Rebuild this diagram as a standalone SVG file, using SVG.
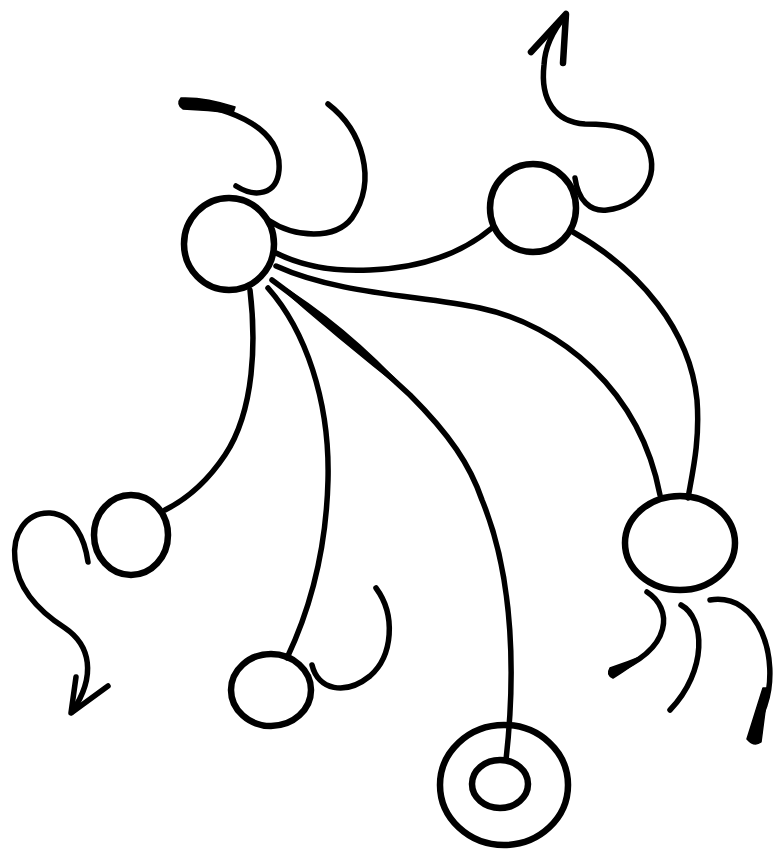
<svg xmlns="http://www.w3.org/2000/svg" width="777" height="850" viewBox="0 0 777 850">
<style>
.n{fill:none;stroke:#000;stroke-width:6.5}
.c{fill:none;stroke:#000;stroke-width:5.5;stroke-linecap:round;stroke-linejoin:round}
.f{fill:#000;stroke:#000;stroke-width:1.5;stroke-linejoin:round}
</style>
<rect width="777" height="850" fill="#fff"/>
<g id="connectors">
<path class="c" d="M183,103 C235,108 282,130 279,170 C277,195 255,198 236,186"/>
<path class="f" d="M181,98 Q205,97 235,107 L233,113 Q208,110 183,109 Q176,104 181,98 Z"/>
<path class="c" d="M328,104 C362,130 378,180 352,218 C335,240 295,238 268,220"/>
<path class="c" d="M276,253 C300,265 330,272 370,270 C420,268 460,255 492,228"/>
<path class="c" d="M276,266 C340,295 420,295 480,308 C560,325 640,390 660,495"/>
<path class="c" d="M573,232 C640,270 690,330 697,400 C700,440 693,470 688,498"/>
<path class="c" d="M250,290 C256,340 255,410 225,455 C205,485 185,500 165,510"/>
<path class="c" d="M268,288 C305,330 330,400 328,480 C326,560 305,620 287,658"/>
<path class="c" d="M272,280 Q340,330 410,395 C450,435 470,465 482,500 C515,580 515,680 506,760"/>
<path class="f" d="M272,280 Q334.9,336.1 410,395 Q345.1,323.9 272,280 Z"/>
<path class="c" d="M575,178 C578,200 590,212 607,210 C640,206 660,178 648,148 C638,126 608,124 585,124 C555,122 540,100 544,65 C545,45 555,28 566,15"/>
<path class="c" style="stroke-width:6.5" d="M531,52 L566,14 L563,63"/>
<path class="c" d="M88,562 C85,540 75,515 50,513 C25,512 12,535 15,560 C18,590 40,612 65,628 C90,645 97,675 72,712"/>
<path class="c" d="M76,677 L71,713 L108,686"/>
<path class="c" d="M312,665 C318,690 345,696 370,676 C393,656 396,615 376,588"/>
<path class="c" d="M647,592 C672,608 675,648 612,673"/>
<path class="f" d="M645,655 Q630,668 613,678 Q606,675 610,668 Q628,662 645,655 Z"/>
<path class="c" d="M681,605 C705,618 708,670 670,710"/>
<path class="c" d="M710,600 C760,592 780,660 765,705 L752,740"/>
<path class="f" d="M768,688 L761,742 Q754,747 747,739 L763,688 Z"/>
</g>
<g id="node-a"><ellipse class="n" cx="229" cy="244" rx="45" ry="46"/></g>
<g id="node-b"><ellipse class="n" cx="533" cy="208" rx="43" ry="44"/></g>
<g id="node-c"><ellipse class="n" cx="131" cy="535" rx="37" ry="40"/></g>
<g id="node-d"><ellipse class="n" cx="271" cy="690" rx="40" ry="36"/></g>
<g id="node-e"><ellipse class="n" cx="680" cy="543" rx="55" ry="47"/></g>
<g id="node-f"><ellipse class="n" cx="504" cy="785" rx="64" ry="60"/><ellipse class="n" cx="500" cy="784" rx="28" ry="24"/></g>
</svg>
